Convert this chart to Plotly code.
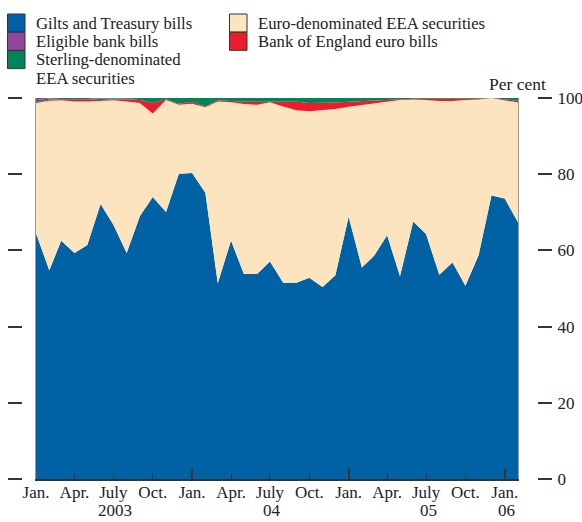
import pandas as pd
import plotly.graph_objects as go

# ── Data (per cent of total, monthly Jan 2003 – Feb 2006) ─────────────────────
months = pd.date_range("2003-01-01", "2006-02-01", freq="MS")

gilts = [64.5, 54.8, 62.5, 59.3, 61.4, 72.2, 66.7, 59.3, 69.0, 74.0,
         70.1, 80.1, 80.3, 75.1, 51.4, 62.6, 53.8, 53.8, 57.1, 51.5,
         51.5, 52.8, 50.4, 53.5, 68.8, 55.5, 58.5, 64.0, 53.2, 67.6,
         64.3, 53.6, 56.8, 50.7, 58.8, 74.4, 73.6, 67.4]
euro_eea = [34.2, 44.5, 36.9, 39.8, 37.7, 27.0, 32.7, 39.8, 29.7, 21.9,
            29.4, 18.1, 18.2, 22.5, 47.7, 36.3, 44.6, 44.4, 41.8, 46.3,
            45.3, 43.7, 46.4, 43.6, 28.9, 42.7, 40.2, 35.2, 46.3, 32.0,
            35.2, 45.6, 42.4, 48.8, 40.8, 25.6, 25.8, 31.4]
boe_euro_bills = [0.2, 0.3, 0.3, 0.6, 0.6, 0.3, 0.2, 0.6, 0.8, 2.8,
                  0.2, 0.3, 0.5, 0.2, 0.3, 0.3, 0.6, 0.8, 0.1, 1.2,
                  2.2, 2.2, 1.9, 1.7, 1.3, 1.0, 0.7, 0.4, 0.2, 0.2,
                  0.3, 0.6, 0.6, 0.3, 0.2, 0.0, 0.2, 0.5]
sterling_eea = [0.5, 0.3, 0.3, 0.3, 0.3, 0.3, 0.3, 0.3, 0.5, 1.3,
                0.3, 1.5, 1.0, 2.2, 0.6, 0.8, 1.0, 1.0, 1.0, 1.0,
                1.0, 1.3, 1.3, 1.2, 1.0, 0.8, 0.6, 0.4, 0.3, 0.2,
                0.2, 0.2, 0.2, 0.2, 0.2, 0.0, 0.4, 0.7]
eligible_bills = [0.6, 0.1, 0.0, 0.0, 0.0, 0.2, 0.1, 0.0, 0.0, 0.0,
                  0.0, 0.0, 0.0, 0.0, 0.0, 0.0, 0.0, 0.0, 0.0, 0.0,
                  0.0, 0.0, 0.0, 0.0, 0.0, 0.0, 0.0, 0.0, 0.0, 0.0,
                  0.0, 0.0, 0.0, 0.0, 0.0, 0.0, 0.0, 0.0]

quarter_ticks = pd.date_range("2003-01-01", "2006-01-01", freq="QS")
quarter_labels = ["Jan.", "Apr.", "July", "Oct."] * 3 + ["Jan."]
jan_ticks = pd.date_range("2003-01-01", "2006-01-01", freq="YS")
year_labels = [("2003-07-01", "2003"), ("2004-07-01", "04"),
               ("2005-07-01", "05"), ("2006-01-01", "06")]
y_ticks = [0, 20, 40, 60, 80, 100]

BLUE, CREAM, RED, GREEN, PURPLE = "#0062A4", "#FCE5BE", "#EC1C2D", "#00855B", "#8E479A"
FONT = "Liberation Serif, Times New Roman, serif"
TXT = "#222222"
W, H = 582, 522


def px_x(p):
    return p / W


def px_y(p):
    return 1 - p / H


fig = go.Figure()
for vals, col in [(gilts, BLUE), (euro_eea, CREAM), (boe_euro_bills, RED),
                  (sterling_eea, GREEN), (eligible_bills, PURPLE)]:
    fig.add_trace(go.Scatter(
        x=months, y=vals, stackgroup="one", mode="lines",
        line=dict(width=0), fillcolor=col, hoverinfo="skip", showlegend=False,
    ))

# ── Legend (drawn by hand, two columns) ──────────────────────────────────────
legend_items = [
    (7.5, 14, BLUE, ["Gilts and Treasury bills"]),
    (7.5, 32.3, PURPLE, ["Eligible bank bills"]),
    (7.5, 50.6, GREEN, ["Sterling-denominated", "EEA securities"]),
    (229.5, 14, CREAM, ["Euro-denominated EEA securities"]),
    (229.5, 32.3, RED, ["Bank of England euro bills"]),
]
shapes = []
annotations = []
for x0, y0, col, lines in legend_items:
    shapes.append(dict(type="rect", xref="paper", yref="paper",
                       x0=px_x(x0), x1=px_x(x0 + 17.5), y0=px_y(y0 + 18), y1=px_y(y0),
                       fillcolor=col, line=dict(color="#333333", width=1)))
    for k, line in enumerate(lines):
        annotations.append(dict(text=line, xref="paper", yref="paper",
                                x=px_x(x0 + 26.5), y=px_y(y0 + 9 + 18.8 * k),
                                xanchor="left", yanchor="middle", showarrow=False,
                                font=dict(family=FONT, size=16.7, color=TXT)))

annotations.append(dict(text="Per cent", xref="paper", yref="paper",
                        x=px_x(548), y=px_y(84), xanchor="right", yanchor="middle",
                        showarrow=False, font=dict(family=FONT, size=17.5, color=TXT)))
for d, txt in year_labels:
    annotations.append(dict(text=txt, x=d, xref="x", yref="paper", y=0,
                            yanchor="bottom", showarrow=False, xshift=2,
                            font=dict(family=FONT, size=17, color=TXT)))

fig.update_layout(
    width=W, height=H,
    margin=dict(l=0, r=0, t=0, b=0, autoexpand=False),
    paper_bgcolor="white", plot_bgcolor="white",
    font=dict(family=FONT, size=17, color=TXT),
    shapes=shapes, annotations=annotations,
    xaxis=dict(
        domain=[px_x(36), px_x(518)],
        range=[months[0], months[-1]],
        tickvals=quarter_ticks, ticktext=quarter_labels,
        ticks="inside", ticklen=5, tickcolor="#333333", tickwidth=1.2,
        ticklabelstandoff=-3,
        showline=True, linecolor="#333333", linewidth=1.5,
        showgrid=False, zeroline=False, layer="above traces",
        tickfont=dict(family=FONT, size=17),
    ),
    # longer year ticks at each January
    xaxis2=dict(
        domain=[px_x(36), px_x(518)], overlaying="x", anchor="y", side="bottom",
        range=[months[0], months[-1]], tickvals=jan_ticks,
        ticks="inside", ticklen=10, tickcolor="#333333", tickwidth=1.5,
        showticklabels=False, showline=False, showgrid=False, zeroline=False,
        layer="above traces",
    ),
    yaxis=dict(
        domain=[px_y(479), px_y(98)],
        range=[0, 100], side="right", anchor="free", position=px_x(537),
        tickvals=y_ticks,
        ticks="outside", ticklen=14, tickcolor="#333333", tickwidth=1.5,
        ticklabelstandoff=2,
        showline=False, showgrid=False, zeroline=False,
        tickfont=dict(family=FONT, size=17),
    ),
    yaxis2=dict(
        domain=[px_y(479), px_y(98)],
        range=[0, 100], overlaying="y", side="left", anchor="free",
        position=px_x(22), tickvals=y_ticks,
        ticks="outside", ticklen=14, tickcolor="#333333", tickwidth=1.5,
        showticklabels=False, showline=False, showgrid=False, zeroline=False,
    ),
    yaxis3=dict(
        domain=[px_y(479), px_y(98)],
        range=[0, 100], overlaying="y", anchor="x",
        showline=True, mirror=True, linecolor="#9a9a9a", linewidth=1,
        showticklabels=False, ticks="", showgrid=False, zeroline=False,
        layer="above traces",
    ),
)

# invisible traces so the helper axes are drawn
for xa, ya in [("x", "y2"), ("x", "y3"), ("x2", "y")]:
    fig.add_trace(go.Scatter(x=[months[0]], y=[0], xaxis=xa, yaxis=ya, mode="markers",
                             marker=dict(opacity=0), hoverinfo="skip", showlegend=False))

# drop the default 8px body margin so the figure fills the window exactly
fig.write_html("out.html", config={"displayModeBar": False},
               post_script="document.body.style.margin='0';")
